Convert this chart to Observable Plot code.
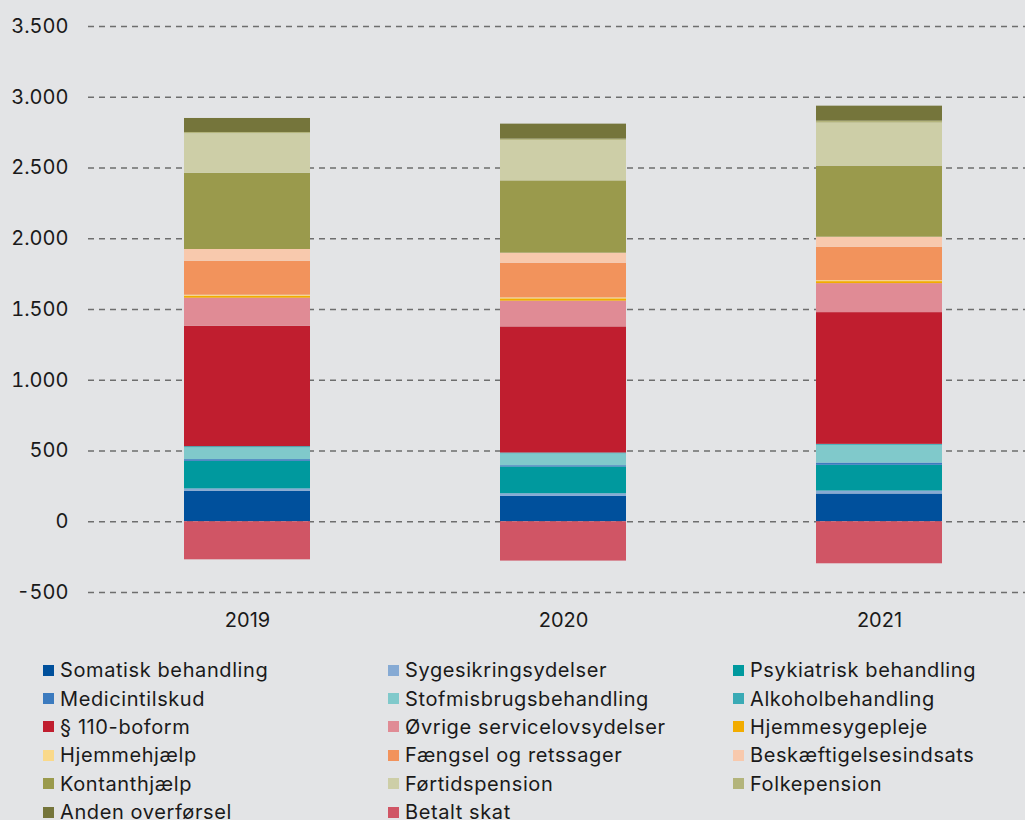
<!DOCTYPE html>
<html><head><meta charset="utf-8">
<script src="https://cdn.jsdelivr.net/npm/d3@7"></script>
<script src="https://cdn.jsdelivr.net/npm/@observablehq/plot@0.6"></script>
<style>
body{margin:0;background:#e3e4e6;font-family:Inter,sans-serif;color:#1a1a1a;width:1025px;height:820px;overflow:hidden}
#legend{display:grid;grid-template-columns:345px 345px 345px;margin-left:43px;padding-top:6px}
.item{display:flex;align-items:center;height:28.4px;font-size:20px;letter-spacing:0.6px;line-height:1;white-space:nowrap}
.sw{width:11px;height:11px;margin-right:6px;flex:none}
</style></head><body>
<div id="chart"></div>
<div id="legend"></div>
<script>
const years = ["2019", "2020", "2021"];
const categories = [
  "Somatisk behandling", "Sygesikringsydelser", "Psykiatrisk behandling",
  "Medicintilskud", "Stofmisbrugsbehandling", "Alkoholbehandling",
  "§ 110-boform", "Øvrige servicelovsydelser", "Hjemmesygepleje",
  "Hjemmehjælp", "Fængsel og retssager", "Beskæftigelsesindsats",
  "Kontanthjælp", "Førtidspension", "Folkepension",
  "Anden overførsel", "Betalt skat"
];
const colors = [
  "#00509c", "#86aad4", "#00999e",
  "#3c7bbf", "#80c9cb", "#3aaab5",
  "#c01e2f", "#e08b95", "#f2ac00",
  "#fad98a", "#f2935c", "#f8c9ad",
  "#9a9a4c", "#cdcea7", "#b3b47b",
  "#75753b", "#d05565"
];
const values2019 = [216, 16, 195, 12, 83, 9, 851, 198, 14, 7, 240, 83, 539, 279, 9, 99, -269];
const values2020 = [179, 19, 189, 9, 83, 7, 891, 182, 16, 7, 245, 71, 511, 286, 9, 106, -278];
const values2021 = [196, 21, 182, 16, 125, 7, 931, 205, 14, 7, 236, 71, 502, 304, 14, 106, -297];
const yTicks = [-500, 0, 500, 1000, 1500, 2000, 2500, 3000, 3500];

const series = [values2019, values2020, values2021];
const data = [];
categories.forEach((c, i) => {
  years.forEach((y, j) => data.push({year: y, category: c, value: series[j][i]}));
});

const fmt = d => d3.format(",")(d).replace(/,/g, ".").replace("\u2212", "-");

const chart = Plot.plot({
  width: 1025, height: 650,
  marginTop: 26, marginBottom: 58, marginLeft: 88, marginRight: 0,
  style: {background: "transparent", fontFamily: "Inter, sans-serif", fontSize: "20px", color: "#1a1a1a"},
  x: {domain: years, range: [88, 1038], paddingInner: 0.6, paddingOuter: 0.3, label: null},
  y: {domain: [-500, 3500], label: null},
  color: {domain: categories, range: colors},
  marks: [
    Plot.ruleY(yTicks, {stroke: "#6e6e6e", strokeWidth: 1.7, strokeDasharray: "6,5"}),
    Plot.barY(data, {x: "year", y: "value", fill: "category"}),
    Plot.axisY({ticks: yTicks, tickSize: 0, tickPadding: 20, tickFormat: fmt, fontSize: 20, label: null}),
    Plot.axisX({tickSize: 0, tickPadding: 20, fontSize: 20, label: null})
  ]
});
document.getElementById("chart").appendChild(chart);

const legend = document.getElementById("legend");
categories.forEach((c, i) => {
  const it = document.createElement("div");
  it.className = "item";
  const sw = document.createElement("span");
  sw.className = "sw";
  sw.style.background = colors[i];
  const t = document.createElement("span");
  t.textContent = c;
  it.appendChild(sw); it.appendChild(t);
  legend.appendChild(it);
});
</script>
</body></html>
